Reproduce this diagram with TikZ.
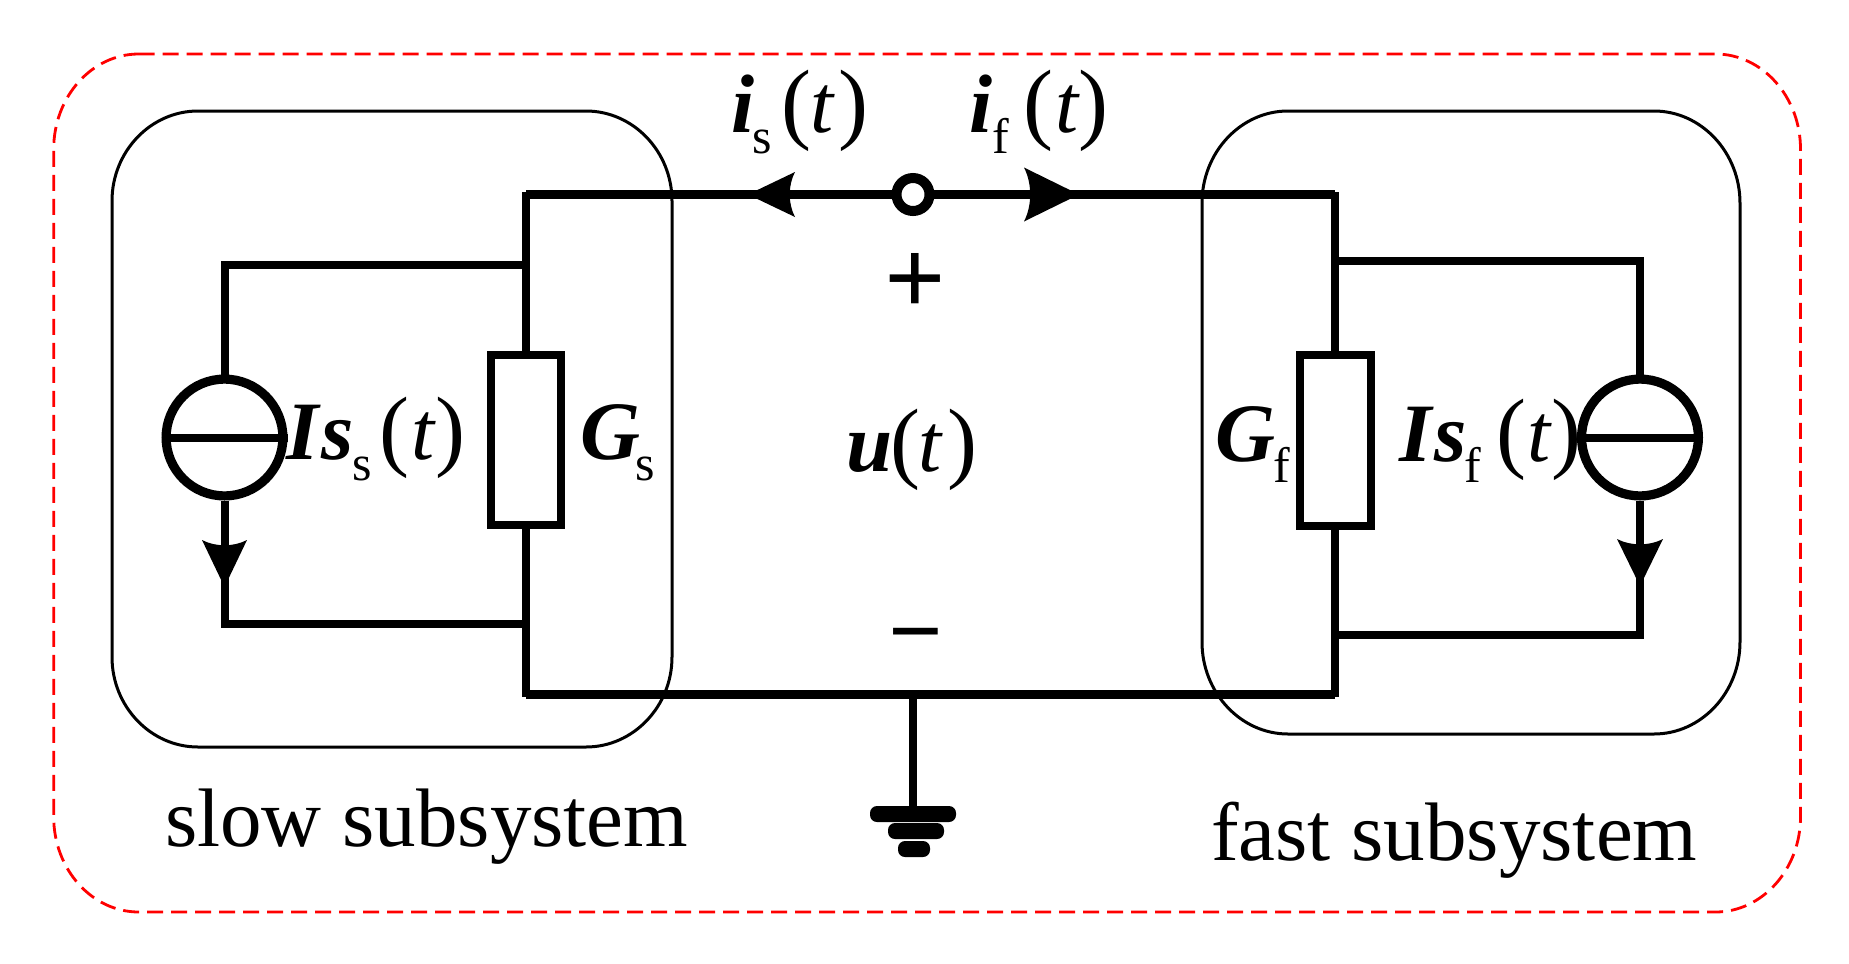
\documentclass[tikz,border=0pt]{standalone}
\usepackage{fontspec}
\setmainfont{Liberation Serif}
\newdimen\pxu \pxu=0.5pt
\newcommand\pc[2]{\rlap{\kern#1\pxu #2}}
\newcommand\bi[2]{\pc{#1}{\fontsize{41.5}{41.5}\selectfont\bfseries\itshape #2}}
\newcommand\rmp[2]{\pc{#1}{\fontsize{45}{45}\selectfont #2}}
\newcommand\sbs[2]{\pc{#1}{\raisebox{-21\pxu}{\fontsize{25}{25}\selectfont #2}}}
\newcommand\func[3]{\rmp{#1}{(}\pc{#2}{\fontsize{41.5}{41.5}\selectfont\itshape t}\rmp{#3}{)}}
\newcommand\rr[7]{\draw[#7] ({#1+#5},#2) -- ({#3-#5},#2)
  .. controls +({.55*#5},0) and +(0,{-.55*#6}) .. (#3,{#2+#6}) -- (#3,{#4-#6})
  .. controls +(0,{.55*#6}) and +({.55*#5},0) .. ({#3-#5},#4) -- ({#1+#5},#4)
  .. controls +({-.55*#5},0) and +(0,{.55*#6}) .. (#1,{#4-#6}) -- (#1,{#2+#6})
  .. controls +(0,{-.55*#6}) and +({-.55*#5},0) .. ({#1+#5},#2) -- cycle;}
\tikzset{
  thinbox/.style={draw=black,line width=1.5pt},
  dashbox/.style={draw=red,line width=1.4pt,dash pattern=on 8pt off 4pt},
  wire/.style={draw=black,line width=4pt,line join=miter},
  res/.style={draw=black,line width=4pt,rectangle,inner sep=0pt,fill=white},
  src/.style={draw=black,line width=4.6pt,circle,inner sep=0pt,minimum size=58.4pt},
  term/.style={draw=black,line width=5pt,circle,inner sep=0pt,minimum size=16.5pt,fill=white},
  bar/.style={fill=black,rectangle,rounded corners=3.5pt,inner sep=0pt,minimum height=8pt},
  lbl/.style={anchor=base west,inner sep=0pt,outer sep=0pt},
  head/.pic={\fill (0,0) -- (-1,-.5) .. controls (-.85,-.2) and (-.85,.2) .. (-1,.5) -- cycle;}
}
\begin{document}
\begin{tikzpicture}[x=0.5pt,y=-0.5pt]
\useasboundingbox (0,0) rectangle (1849,964);
\fill[white] (0,0) rectangle (1849,964);
% enclosures
\rr{53.7}{54}{1800.5}{912}{85}{95}{dashbox}
\rr{112}{111}{672}{747}{86}{90}{thinbox}
\rr{1202}{111}{1740}{734}{86}{92}{thinbox}
% junctions
\coordinate (TL) at (526,194.5);
\coordinate (BL) at (526,694.5);
\coordinate (TR) at (1335,194.5);
\coordinate (BR) at (1335,694.5);
\coordinate (GJ) at (913,694.5);
\coordinate (J1) at (526,265);
\coordinate (J2) at (526,623.7);
\coordinate (C1) at (224.5,265);
\coordinate (C2) at (224.5,623.7);
\coordinate (J3) at (1335,260.7);
\coordinate (J4) at (1335,635);
\coordinate (C3) at (1640,260.7);
\coordinate (C4) at (1640,635);
% nodes
\node[res,minimum width=35pt,minimum height=85pt] (Gs) at (526,439.7) {};
\node[res,minimum width=35.5pt,minimum height=85.5pt] (Gf) at (1335,440.5) {};
\node[src] (Ss) at (224.5,437.5) {};
\node[src] (Sf) at (1640,437.5) {};
\node[bar,minimum width=43pt] (g1) at (913,814) {};
\node[bar,minimum width=28pt] (g2) at (916,831) {};
\node[bar,minimum width=16pt] (g3) at (914,849) {};
% wires
\draw[wire,line width=4.5pt] (TL) -- (TR);
\draw[wire,line width=4.5pt] (BL) -- (BR);
\draw[wire,line width=3.6pt] ([yshift=1.1pt]TL) -- (Gs.north);
\draw[wire,line width=3.6pt] (Gs.south) -- ([yshift=-1.1pt]BL);
\draw[wire,line width=3.6pt] ([yshift=1.1pt]TR) -- (Gf.north);
\draw[wire,line width=3.6pt] (Gf.south) -- ([yshift=-1.1pt]BR);
\draw[wire] (J1) -- (C1) -- (Ss.north);
\draw[wire] (Ss.south) -- (C2) -- (J2);
\draw[wire] (J3) -- (C3) -- (Sf.north);
\draw[wire] (Sf.south) -- (C4) -- (J4);
\draw[wire] (Ss.west) -- (Ss.east);
\draw[wire] (Sf.west) -- (Sf.east);
\draw[wire] (GJ) -- (g1.north);
\node[term] (T) at (913,194.5) {};
% arrowheads
\pic[rotate=180,xscale=47,yscale=45] at (748,194.5) {head};
\pic[xscale=55,yscale=54] at (1079,194.5) {head};
\pic[rotate=-90,xscale=47,yscale=45] at (224.5,587) {head};
\pic[rotate=-90,xscale=47,yscale=46] at (1640,586) {head};
% labels
\node[lbl] (is) at (731,132) {\bi{0}{i}\sbs{21}{s}\func{50}{79}{107}\kern131\pxu};
\node[lbl] (if) at (969,132) {\bi{0}{i}\sbs{23}{f}\func{54}{86}{109}\kern135\pxu};
\node[lbl] (Iss) at (286,459) {\bi{0}{I}\bi{36}{s}\sbs{66}{s}\func{93.5}{125}{149}\kern174\pxu};
\node[lbl] (Isf) at (1399,461) {\bi{0}{I}\bi{36}{s}\sbs{65}{f}\func{97}{128}{152}\kern178\pxu};
\node[lbl] (Gsl) at (580,459) {\bi{0}{G}\sbs{55}{s}\kern74\pxu};
\node[lbl] (Gfl) at (1215,461) {\bi{0}{G}\sbs{58}{f}\kern79\pxu};
\node[lbl] (u) at (846,471) {\bi{0}{u}\func{44}{72}{101}\kern126\pxu};
\node[lbl] (plus) at (884,314) {\fontsize{54}{54}\selectfont\bfseries +};
\node[lbl] (minus) at (888,663) {\fontsize{48}{48}\selectfont\bfseries −};
\node[lbl] (slow) at (165,846) {\fontsize{41.5}{41.5}\selectfont slow subsystem};
\node[lbl] (fast) at (1211,860) {\fontsize{41.5}{41.5}\selectfont fast subsystem};
\end{tikzpicture}
\end{document}
